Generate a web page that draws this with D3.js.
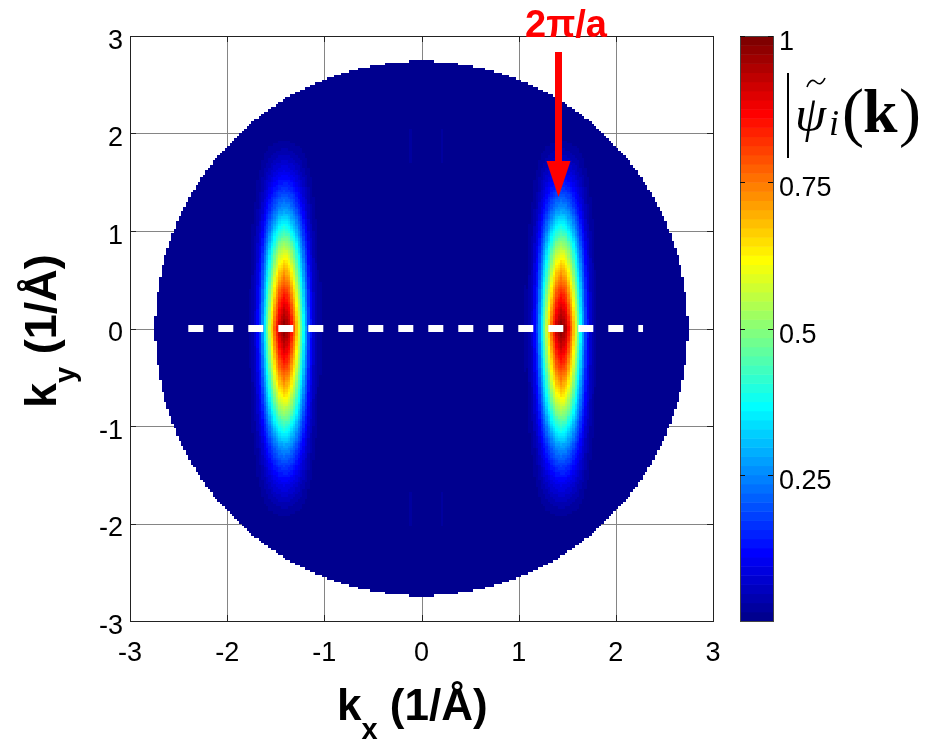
<!DOCTYPE html>
<html><head><meta charset="utf-8">
<script src="https://cdn.jsdelivr.net/npm/d3@7"></script>
<style>
body{margin:0;background:#fff}
#wrap{position:relative;width:927px;height:741px;overflow:hidden}
#wrap canvas,#wrap svg{position:absolute;left:0;top:0}
</style>
</head><body>
<div id="wrap">
<svg id="under" width="927" height="741"></svg>
<canvas id="cv" width="927" height="741"></canvas>
<svg id="over" width="927" height="741"></svg>
</div>
<script>
// ---------- data ----------
const xTicks = [-3, -2, -1, 0, 1, 2, 3];
const yTicks = [-3, -2, -1, 0, 1, 2, 3];
const xTickLabels = ["-3", "-2", "-1", "0", "1", "2", "3"];
const yTickLabels = ["-3", "-2", "-1", "0", "1", "2", "3"];
const cbTicks = [0.25, 0.5, 0.75, 1];
const cbTickLabels = ["0.25", "0.5", "0.75", "1"];
const circleRadius = 2.74;          // data extent (1/Å)
const cellStep = 0.025;             // k-grid spacing of the map
const spotKx = [-1.41, 1.44];       // peak positions
const spotKy = [0, 0];
const spotAmp = [1.0, 1.0];
// |psi| profile along ky from a peak
const profYOffsets = [0, 0.2, 0.4, 0.6, 0.8, 1.0, 1.2, 1.4, 1.6, 1.8, 2.0];
const profYValues  = [1.0, 0.92, 0.82, 0.70, 0.57, 0.42, 0.28, 0.18, 0.10, 0.04, 0.0];
// |psi| profile along kx from a peak
const profXOffsets = [0, 0.05, 0.1, 0.15, 0.2, 0.25, 0.3, 0.35, 0.4];
const profXValues  = [1.0, 0.94, 0.78, 0.58, 0.37, 0.18, 0.07, 0.02, 0.0];
// faint streaks
const streakKx  = [-0.12, 0.21, -0.12, 0.21, -1.03, 1.07];
const streakKy0 = [1.71, 1.71, -2.03, -2.03, -0.48, -0.45];
const streakKy1 = [2.04, 2.04, -1.68, -1.68, 0.48, 0.46];
const streakV   = [0.025, 0.025, 0.025, 0.025, 0.02, 0.02];
const dashKx = [-2.40, 2.28];
const arrowKx = 1.41;
const arrowKy = [3.0, 1.35];
const annotationText = "2π/a";

// ---------- scales ----------
const x = d3.scaleLinear().domain([-3, 3]).range([130, 713]);
const y = d3.scaleLinear().domain([-3, 3]).range([621, 36]);
const cb = d3.scaleLinear().domain([0, 1]).range([621, 36]);
const profY = d3.scaleLinear().domain(profYOffsets).range(profYValues).clamp(true);
const profX = d3.scaleLinear().domain(profXOffsets).range(profXValues).clamp(true);

const NC = 64;
function jet(t) {
  const c = v => Math.max(0, Math.min(1, v));
  const r = c(1.5 - Math.abs(4 * t - 3));
  const g = c(1.5 - Math.abs(4 * t - 2));
  const b = c(1.5 - Math.abs(4 * t - 1));
  return d3.rgb(Math.round(r * 255), Math.round(g * 255), Math.round(b * 255)).toString();
}
const jetColors = d3.range(NC).map(i => jet((i + 1) / NC));
const colorOf = v => jetColors[Math.max(0, Math.min(NC - 1, Math.floor(v * NC)))];

// ---------- grid (under) ----------
const under = d3.select("#under");
under.append("g").selectAll("line").data(xTicks).join("line")
  .attr("x1", d => Math.round(x(d)) + 0.5).attr("x2", d => Math.round(x(d)) + 0.5)
  .attr("y1", y(3)).attr("y2", y(-3)).attr("stroke", "#858585").attr("stroke-width", 1);
under.append("g").selectAll("line").data(yTicks).join("line")
  .attr("y1", d => Math.round(y(d)) + 0.5).attr("y2", d => Math.round(y(d)) + 0.5)
  .attr("x1", x(-3)).attr("x2", x(3)).attr("stroke", "#858585").attr("stroke-width", 1);

// ---------- heat map (canvas) ----------
const ctx = document.getElementById("cv").getContext("2d");
const n = Math.round(6 / cellStep);
const edgeK = d3.range(n + 1).map(i => -3 + i * cellStep);
const edgePx = edgeK.map(k => Math.round(x(k)));
const edgePy = edgeK.map(k => Math.round(y(k)));
for (let i = 0; i < n; i++) {
  const cx = (edgeK[i] + edgeK[i + 1]) / 2;
  for (let j = 0; j < n; j++) {
    const cy = (edgeK[j] + edgeK[j + 1]) / 2;
    if (Math.hypot(cx, cy) > circleRadius) continue;
    let v = 0;
    for (let s = 0; s < spotKx.length; s++) {
      v = Math.max(v, spotAmp[s] * profX(Math.abs(cx - spotKx[s])) * profY(Math.abs(cy - spotKy[s])));
    }
    for (let s = 0; s < streakKx.length; s++) {
      if (Math.abs(cx - streakKx[s]) < cellStep * 0.6 && cy >= streakKy0[s] && cy <= streakKy1[s]) v += streakV[s];
    }
    ctx.fillStyle = colorOf(v);
    ctx.fillRect(edgePx[i], edgePy[j + 1], edgePx[i + 1] - edgePx[i], edgePy[j] - edgePy[j + 1]);
  }
}

// ---------- overlay ----------
const svg = d3.select("#over");
const font = "'Liberation Sans', Arial, Helvetica, sans-serif";

// dashed line at ky = 0
svg.append("line")
  .attr("x1", x(dashKx[0])).attr("x2", x(dashKx[1]))
  .attr("y1", y(0)).attr("y2", y(0))
  .attr("stroke", "#fff").attr("stroke-width", 7).attr("stroke-dasharray", "15,15");

// axes box
svg.append("rect").attr("x", x(-3) + 0.5).attr("y", y(3) + 0.5)
  .attr("width", x(3) - x(-3)).attr("height", y(-3) - y(3))
  .attr("fill", "none").attr("stroke", "#222").attr("stroke-width", 1);

// ticks (inward)
const tk = 6;
xTicks.forEach(d => {
  const px = Math.round(x(d)) + 0.5;
  svg.append("line").attr("x1", px).attr("x2", px).attr("y1", y(-3)).attr("y2", y(-3) - tk).attr("stroke", "#222");
  svg.append("line").attr("x1", px).attr("x2", px).attr("y1", y(3)).attr("y2", y(3) + tk).attr("stroke", "#222");
});
yTicks.forEach(d => {
  const py = Math.round(y(d)) + 0.5;
  svg.append("line").attr("y1", py).attr("y2", py).attr("x1", x(-3)).attr("x2", x(-3) + tk).attr("stroke", "#222");
  svg.append("line").attr("y1", py).attr("y2", py).attr("x1", x(3)).attr("x2", x(3) - tk).attr("stroke", "#222");
});

// tick labels
svg.append("g").selectAll("text").data(xTicks).join("text")
  .attr("x", d => x(d)).attr("y", 661)
  .attr("text-anchor", "middle").attr("font-family", font).attr("font-size", 27)
  .text((d, i) => xTickLabels[i]);
svg.append("g").selectAll("text").data(yTicks).join("text")
  .attr("x", 123).attr("y", d => y(d) + 12.5)
  .attr("text-anchor", "end").attr("font-family", font).attr("font-size", 27)
  .text((d, i) => yTickLabels[i]);

// axis labels
const xl = svg.append("text").attr("x", 337).attr("y", 720)
  .attr("font-family", font).attr("font-weight", "bold").attr("font-size", 44);
xl.append("tspan").text("k");
xl.append("tspan").attr("font-size", 29).attr("dy", 19).text("x");
xl.append("tspan").attr("dy", -19).text(" (1/Å)");

const yl = svg.append("text").attr("transform", "translate(56,408) rotate(-90)")
  .attr("font-family", font).attr("font-weight", "bold").attr("font-size", 45);
yl.append("tspan").text("k");
yl.append("tspan").attr("font-size", 29).attr("dy", 19).text("y");
yl.append("tspan").attr("dy", -19).text(" (1/Å)");

// colour bar
const cbX0 = 740, cbX1 = 773;
svg.append("g").selectAll("rect").data(jetColors).join("rect")
  .attr("x", cbX0).attr("width", cbX1 - cbX0)
  .attr("y", (d, i) => cb((i + 1) / NC))
  .attr("height", (d, i) => cb(i / NC) - cb((i + 1) / NC) + 0.5)
  .attr("fill", d => d);
svg.append("rect").attr("x", cbX0 + 0.5).attr("y", cb(1) + 0.5)
  .attr("width", cbX1 - cbX0).attr("height", cb(0) - cb(1))
  .attr("fill", "none").attr("stroke", "#444").attr("stroke-width", 1);
cbTicks.forEach(d => {
  const py = Math.round(cb(d)) + 0.5;
  svg.append("line").attr("x1", cbX0).attr("x2", cbX0 + 5).attr("y1", py).attr("y2", py).attr("stroke", "#111");
  svg.append("line").attr("x1", cbX1).attr("x2", cbX1 - 5).attr("y1", py).attr("y2", py).attr("stroke", "#111");
});
svg.append("g").selectAll("text").data(cbTicks).join("text")
  .attr("x", 779).attr("y", d => cb(d) + 14)
  .attr("font-family", font).attr("font-size", 27)
  .text((d, i) => cbTickLabels[i]);

// colour bar title |psi~_i(k)
const serif = "'Liberation Serif', 'DejaVu Serif', serif";
svg.append("line").attr("x1", 788).attr("x2", 788).attr("y1", 73).attr("y2", 158)
  .attr("stroke", "#000").attr("stroke-width", 2);
svg.append("text").attr("x", 795).attr("y", 131).attr("font-family", serif)
  .attr("font-style", "italic").attr("font-size", 50).text("ψ");
svg.append("path").attr("d", "M807,87 Q811,77 816,82 T825,78")
  .attr("fill", "none").attr("stroke", "#000").attr("stroke-width", 1.6);
svg.append("text").attr("x", 829).attr("y", 135).attr("font-family", serif)
  .attr("font-style", "italic").attr("font-size", 36).text("i");
svg.append("text").attr("x", 842).attr("y", 134).attr("font-family", serif)
  .attr("font-size", 66).text("(");
svg.append("text").attr("x", 863).attr("y", 132).attr("font-family", serif)
  .attr("font-weight", "bold").attr("font-size", 62).text("k");
svg.append("text").attr("x", 899).attr("y", 134).attr("font-family", serif)
  .attr("font-size", 66).text(")");

// annotation arrow
const ax = x(arrowKx);
const yTop = y(arrowKy[0]) + 16, yTip = y(arrowKy[1]);
svg.append("line").attr("x1", ax).attr("x2", ax).attr("y1", yTop).attr("y2", yTip - 30)
  .attr("stroke", "#ff0000").attr("stroke-width", 7);
svg.append("path")
  .attr("d", `M${ax - 12},${yTip - 36} L${ax + 12},${yTip - 36} L${ax},${yTip} Z`)
  .attr("fill", "#ff0000");
svg.append("text").attr("x", 566).attr("y", 37).attr("text-anchor", "middle")
  .attr("font-family", font).attr("font-weight", "bold").attr("font-size", 38)
  .attr("fill", "#ff0000").text(annotationText);
</script>
</body></html>
